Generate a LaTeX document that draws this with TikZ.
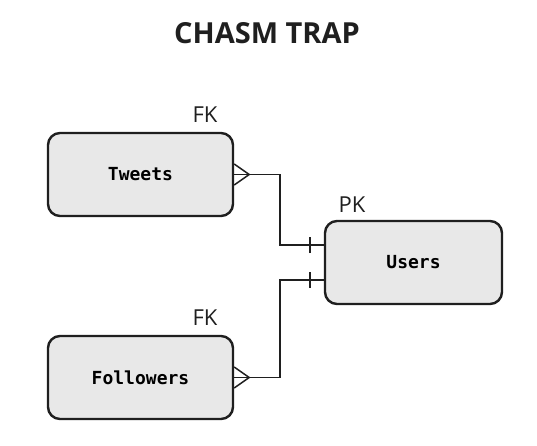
\documentclass[tikz,border=0pt]{standalone}
\usepackage{fontspec}
\setmainfont{Open Sans}
\newfontfamily\monob{DejaVu Sans Mono}
\begin{document}
\begin{tikzpicture}[x=1pt,y=-1pt,
  entity/.style={draw=black!88,line width=2.4pt,fill=black!9,rounded corners=12pt,
    minimum width=185pt,minimum height=83pt,inner sep=0pt,
    font=\monob\bfseries\fontsize{18}{21}\selectfont},
  keylab/.style={font=\fontsize{22}{25}\selectfont,text=black!88,inner sep=0pt},
  rel/.style={draw=black!88,line width=1.5pt}]
\useasboundingbox (0,0) rectangle (537,445);
\node[font=\bfseries\fontsize{29}{32}\selectfont,text=black!88] (title) at (267,33) {CHASM TRAP};
\node[entity] (tweets) at (140.5,174.5) {Tweets};
\node[entity] (followers) at (140.5,377.5) {Followers};
\node[entity,minimum width=177pt] (users) at (413.5,262.5) {Users};
\node[keylab] (fk1) at (205,115) {FK};
\node[keylab] (fk2) at (205,318) {FK};
\node[keylab] (pk) at (352,205) {PK};
% Tweets -- Users
\draw[rel] (tweets.east) -- ++(46,0) |- ([yshift=17.5pt]users.west);
\draw[rel] ([yshift=10.5pt]tweets.east) -- ([xshift=15pt]tweets.east) -- ([yshift=-10.5pt]tweets.east);
\draw[rel] ([xshift=-14pt,yshift=9.5pt]users.west) -- ([xshift=-14pt,yshift=25.5pt]users.west);
% Followers -- Users
\draw[rel] (followers.east) -- ++(46,0) |- ([yshift=-17.5pt]users.west);
\draw[rel] ([yshift=10.5pt]followers.east) -- ([xshift=15pt]followers.east) -- ([yshift=-10.5pt]followers.east);
\draw[rel] ([xshift=-14pt,yshift=-9.5pt]users.west) -- ([xshift=-14pt,yshift=-25.5pt]users.west);
\end{tikzpicture}
\end{document}
